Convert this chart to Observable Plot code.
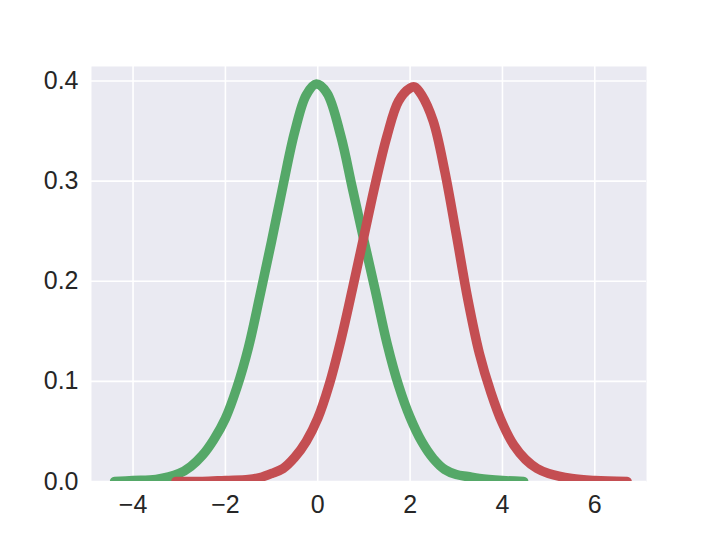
<!DOCTYPE html>
<html>
<head>
<meta charset="utf-8">
<script src="https://cdn.jsdelivr.net/npm/d3@7"></script>
<script src="https://cdn.jsdelivr.net/npm/@observablehq/plot@0.6"></script>
<style>
  html, body { margin: 0; padding: 0; background: #ffffff; }
  #chart { width: 720px; height: 540px; }
</style>
</head>
<body>
<div id="chart"></div>
<script>
const greenX = [-4.4, -4.0, -3.5, -3.0, -2.75, -2.5, -2.25, -2.0, -1.75, -1.5, -1.25, -1.0, -0.75, -0.5, -0.25, -0.03, 0.2, 0.5, 0.75, 1.0, 1.25, 1.5, 1.75, 2.0, 2.25, 2.5, 2.75, 3.0, 3.25, 3.5, 4.0, 4.46];
const greenY = [0.000, 0.001, 0.002, 0.008, 0.015, 0.026, 0.042, 0.063, 0.094, 0.134, 0.186, 0.240, 0.296, 0.349, 0.386, 0.397, 0.388, 0.345, 0.293, 0.241, 0.190, 0.138, 0.096, 0.064, 0.040, 0.023, 0.012, 0.007, 0.005, 0.003, 0.001, 0.000];

const redX = [-3.07, -2.5, -2.0, -1.5, -1.25, -1.0, -0.75, -0.5, -0.25, 0.0, 0.25, 0.5, 0.75, 1.0, 1.25, 1.5, 1.75, 2.0, 2.1, 2.25, 2.5, 2.75, 3.0, 3.25, 3.5, 3.75, 4.0, 4.25, 4.5, 4.75, 5.0, 5.5, 6.0, 6.7];
const redY = [0.000, 0.000, 0.001, 0.002, 0.004, 0.008, 0.013, 0.024, 0.040, 0.063, 0.097, 0.141, 0.192, 0.245, 0.298, 0.345, 0.380, 0.393, 0.394, 0.386, 0.360, 0.310, 0.247, 0.182, 0.128, 0.089, 0.058, 0.036, 0.022, 0.013, 0.008, 0.003, 0.001, 0.000];

const xTicks = [-4, -2, 0, 2, 4, 6];
const yTicks = [0.0, 0.1, 0.2, 0.3, 0.4];

const seriesColors = {green: "#55A868", red: "#C44E52"};

const green = greenX.map((x, i) => ({x, y: greenY[i]}));
const red = redX.map((x, i) => ({x, y: redY[i]}));

const fmtX = d => (d < 0 ? "\u2212" + Math.abs(d) : String(d));
const fmtY = d3.format(".1f");

const chart = Plot.plot({
  width: 720,
  height: 540,
  marginLeft: 91,
  marginRight: 74,
  marginTop: 66,
  marginBottom: 59,
  style: {fontFamily: "'Liberation Sans', Arial, sans-serif", fontSize: "25px", color: "#262626", background: "#ffffff"},
  x: {domain: [-4.9, 7.12], label: null},
  y: {domain: [0, 0.4145], label: null},
  marks: [
    Plot.frame({fill: "#EAEAF2", stroke: "none"}),
    Plot.gridX(xTicks, {stroke: "#ffffff", strokeOpacity: 1, strokeWidth: 1.6}),
    Plot.gridY(yTicks, {stroke: "#ffffff", strokeOpacity: 1, strokeWidth: 1.6}),
    Plot.axisX(xTicks, {tickSize: 0, tickPadding: 14, tickFormat: fmtX, fontSize: 25, fill: "#262626", label: null}),
    Plot.axisY(yTicks, {tickSize: 0, tickPadding: 13, tickFormat: fmtY, fontSize: 25, fill: "#262626", label: null}),
    Plot.line(green, {x: "x", y: "y", stroke: seriesColors.green, strokeWidth: 9.5, curve: "catmull-rom", strokeLinejoin: "round", strokeLinecap: "round", clip: true}),
    Plot.line(red, {x: "x", y: "y", stroke: seriesColors.red, strokeWidth: 9.5, curve: "catmull-rom", strokeLinejoin: "round", strokeLinecap: "round", clip: true})
  ]
});
document.getElementById("chart").appendChild(chart);
</script>
</body>
</html>
